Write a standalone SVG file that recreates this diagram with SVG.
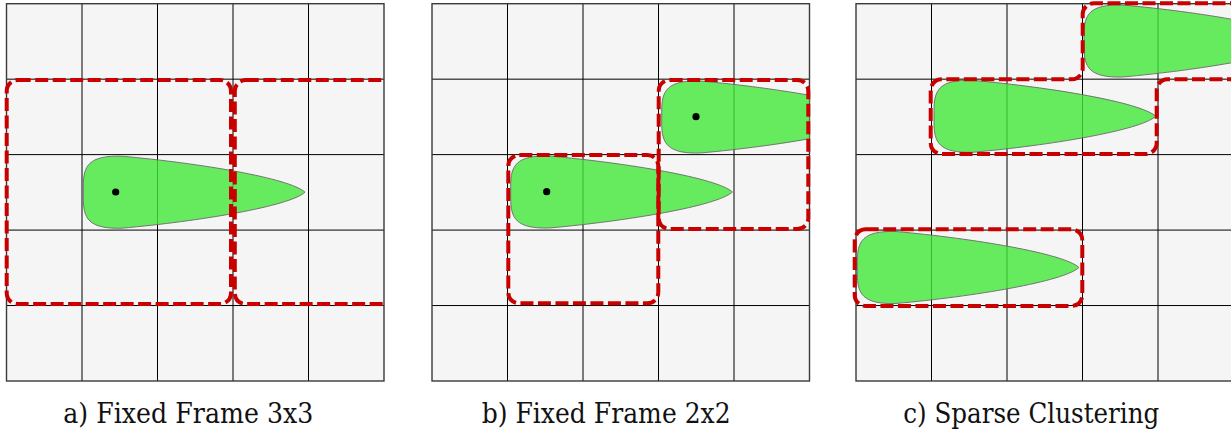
<svg xmlns="http://www.w3.org/2000/svg" width="1231" height="434" viewBox="0 0 1231 434">
<style>
.cell{fill:#f5f5f5;stroke:none}
.gl{stroke:#000;stroke-width:1;fill:none}
.gb{stroke:#3a3a3a;stroke-width:1.4;fill:none}
.blob{fill:#42e738;fill-opacity:0.8;stroke:#6a6a6a;stroke-width:0.9}
.frame{fill:none;stroke:#c80000;stroke-width:4;stroke-dasharray:13 4.5}
.dot{fill:#000}
.lbl{font-family:"DejaVu Serif","Liberation Serif",serif;font-size:27px;fill:#111;text-anchor:middle}
</style>
<defs>
<g id="grid">
<rect class="cell" x="0" y="0" width="377.5" height="377.3"/>
<path class="gl" d="M75.5 0V377.3M151 0V377.3M226.5 0V377.3M302 0V377.3M0 75.46H377.5M0 150.92H377.5M0 226.38H377.5M0 301.84H377.5"/>
<rect class="gb" x="0" y="0" width="377.5" height="377.3"/>
</g>
<path id="blobshape" d="M221.7 0C206.7 -14 116.7 -29 38.7 -36C5 -37 0 -26 0 -6L0 6C0 26 5 37 38.7 36C116.7 29 206.7 14 221.7 0Z"/>
<clipPath id="clipA"><rect x="0" y="0" width="384.3" height="434"/></clipPath>
<clipPath id="clipB"><rect x="420" y="0" width="389.5" height="434"/></clipPath>
</defs>

<g id="panel-a">
<use href="#grid" x="6.5" y="3.7"/>
<use href="#blobshape" class="blob" transform="translate(83.3,192.2)"/>
<circle class="dot" cx="115.7" cy="192" r="3.6"/>
<g clip-path="url(#clipA)">
<rect id="frame-a1" class="frame" x="6.7" y="80" width="224.3" height="224" rx="11"/>
<rect id="frame-a2" class="frame" x="234.8" y="80" width="226" height="224" rx="11"/>
</g>
<text class="lbl" x="188.3" y="422.7" textLength="250" lengthAdjust="spacingAndGlyphs">a) Fixed Frame 3x3</text>
</g>

<g id="panel-b">
<use href="#grid" x="432" y="3.7"/>
<use href="#blobshape" class="blob" transform="translate(510.7,192)"/>
<g clip-path="url(#clipB)">
<use href="#blobshape" class="blob" transform="translate(661.7,117)"/>
</g>
<circle class="dot" cx="546.7" cy="191.7" r="3.6"/>
<circle class="dot" cx="696" cy="116.7" r="3.6"/>
<rect id="frame-b1" class="frame" x="658.7" y="80" width="149.6" height="149" rx="11"/>
<rect id="frame-b2" class="frame" x="508.3" y="155" width="150" height="148.3" rx="11"/>
<text class="lbl" x="606.2" y="422.7" textLength="249" lengthAdjust="spacingAndGlyphs">b) Fixed Frame 2x2</text>
</g>

<g id="panel-c">
<use href="#grid" x="856" y="3.7"/>
<use href="#blobshape" class="blob" transform="translate(1084,41)"/>
<use href="#blobshape" class="blob" transform="translate(934,116.3)"/>
<use href="#blobshape" class="blob" transform="translate(857.3,267.5)"/>
<path id="frame-c1" class="frame" d="M1240 79.3L1167.7 79.3A11 11 0 0 0 1156.7 90.3L1156.7 143A11 11 0 0 1 1145.7 154L941.7 154A11 11 0 0 1 930.7 143L930.7 90.3A11 11 0 0 1 941.7 79.3L1071.7 79.3A11 11 0 0 0 1082.7 68.3L1082.7 14.3A11 11 0 0 1 1093.7 3.3L1240 3.3"/>
<rect id="frame-c2" class="frame" x="854.7" y="229.3" width="227.6" height="76.7" rx="11"/>
<text class="lbl" x="1031.3" y="422.7" textLength="256" lengthAdjust="spacingAndGlyphs">c) Sparse Clustering</text>
</g>
</svg>
